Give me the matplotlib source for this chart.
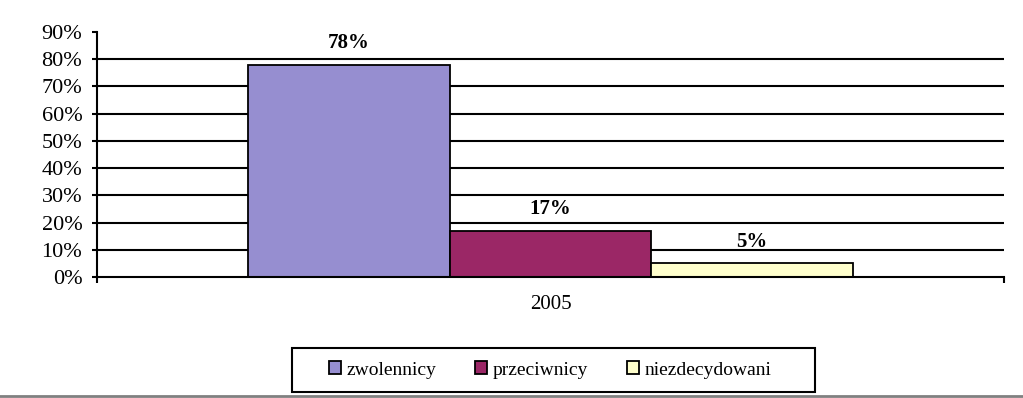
import matplotlib
matplotlib.use("Agg")
import matplotlib.pyplot as plt
from matplotlib.lines import Line2D
from matplotlib.patches import Patch, Rectangle

categories = ["2005"]
series_names = ["zwolennicy", "przeciwnicy", "niezdecydowani"]
values = [0.78, 0.17, 0.05]
value_labels = ["78%", "17%", "5%"]
colors = ["#968ED0", "#9B2766", "#FFFFCC"]
yticks = [0.0, 0.1, 0.2, 0.3, 0.4, 0.5, 0.6, 0.7, 0.8, 0.9]
ytick_labels = ["0%", "10%", "20%", "30%", "40%", "50%", "60%", "70%", "80%", "90%"]

plt.rcParams['font.family'] = ['Liberation Serif', 'DejaVu Serif']

W, H = 1023, 398
fig = plt.figure(figsize=(W / 100, H / 100), dpi=100)
ax = fig.add_axes([0.0948, 0.304, 0.8866, 0.6156])

bw = 0.222
offsets = [-bw, 0.0, bw]
for i, (name, v, c, lab) in enumerate(zip(series_names, values, colors, value_labels)):
    ax.bar(0 + offsets[i], v, width=bw, color=c, edgecolor='black', linewidth=1.3, zorder=3, label=name)
    ax.text(0 + offsets[i], v + 0.042, lab, ha='center', va='bottom', fontsize=15, fontweight='bold', zorder=4)

ax.set_xlim(-0.5, 0.5)
ax.set_ylim(0, 0.9)
ax.set_yticks(yticks)
ax.set_yticklabels(ytick_labels, fontsize=16)
ax.set_xticks([0])
ax.set_xticklabels(categories, fontsize=15)
ax.set_xticks([-0.5, 0.5], minor=True)
ax.tick_params(axis='x', which='major', length=0, pad=13)
ax.tick_params(axis='x', which='minor', length=4.3, width=1.5, direction='out')
ax.tick_params(axis='y', length=3.6, width=1.5, direction='out', pad=7)

for y in yticks[1:-1]:
    ax.axhline(y, color='black', linewidth=1.5, zorder=1)

for s in ['top', 'right']:
    ax.spines[s].set_visible(False)
ax.spines['left'].set_linewidth(1.5)
ax.spines['bottom'].set_linewidth(1.5)
ax.spines['bottom'].set_zorder(5)

# legend frame
fig.add_artist(Rectangle((292 / W, 1 - 392 / H), (815 - 292) / W, (392 - 348) / H,
                         transform=fig.transFigure, fill=False, edgecolor='black', linewidth=1.5))
handles = [Patch(facecolor=c, edgecolor='black', linewidth=1.3) for c in colors]
leg = fig.legend(handles, series_names, loc='center', bbox_to_anchor=(0.538, 1 - 370 / H),
                 ncol=3, fontsize=14, frameon=False,
                 handlelength=0.6, handleheight=0.6, handletextpad=0.3,
                 columnspacing=2.0, borderpad=0.0)

fig.add_artist(Line2D([0, 1], [0.004, 0.004], color='#808080', linewidth=2, transform=fig.transFigure))

fig.savefig("out.png", dpi=100)
